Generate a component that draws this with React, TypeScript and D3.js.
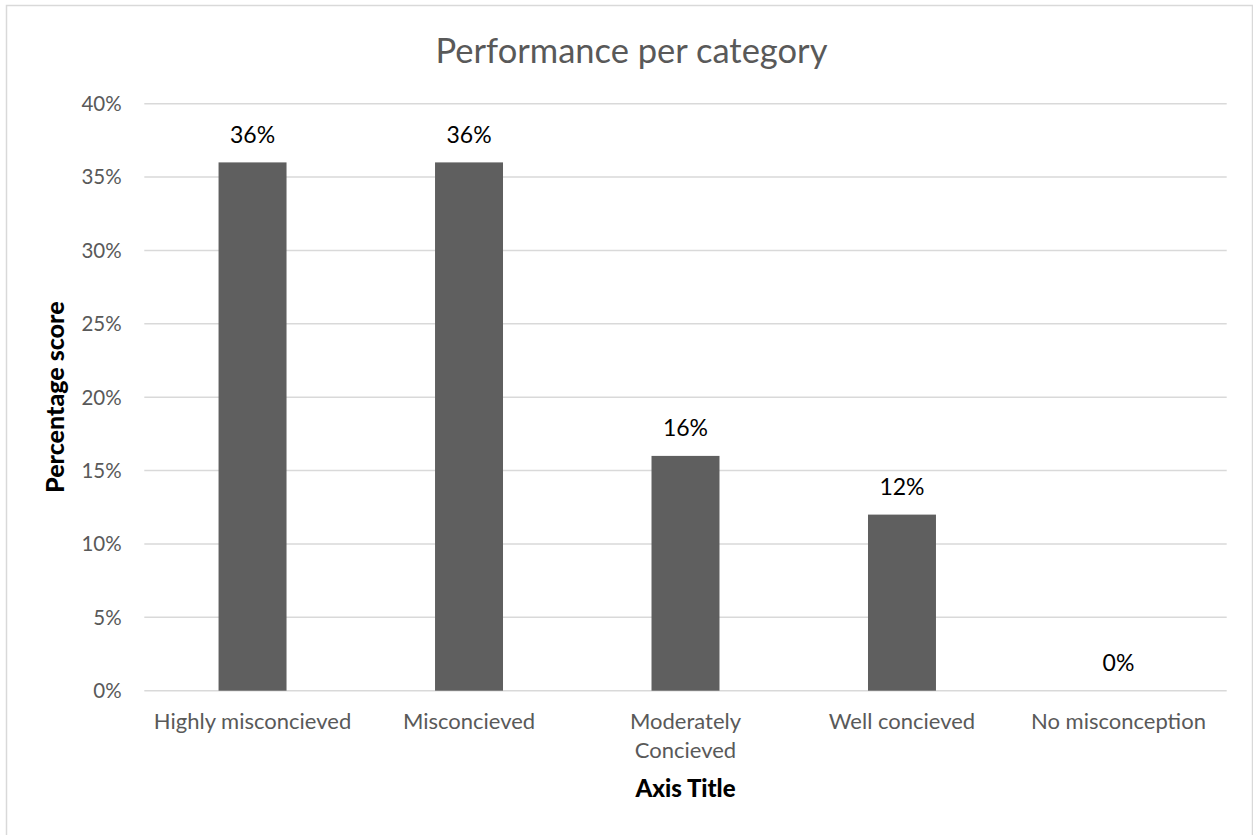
import React from "react";
import * as d3 from "d3";

const categories: string[][] = [
  ["Highly misconcieved"],
  ["Misconcieved"],
  ["Moderately", "Concieved"],
  ["Well concieved"],
  ["No misconception"],
];
const scores: number[] = [0.36, 0.36, 0.16, 0.12, 0];
const yTicks: number[] = [0, 0.05, 0.1, 0.15, 0.2, 0.25, 0.3, 0.35, 0.4];

const W = 1253;
const H = 835;
const FONT = "Lato, 'Open Sans', sans-serif";

export default function App() {
  const left = 144.3;
  const right = 1226.7;
  const top = 103.7;
  const bottom = 690.7;

  const x = d3
    .scaleBand<number>()
    .domain(scores.map((_, i) => i))
    .range([left, right])
    .paddingInner(0.686)
    .paddingOuter(0.343);

  const y = d3.scaleLinear().domain([0, 0.4]).range([bottom, top]);
  const pct = d3.format(".0%");

  return (
    <svg
      width={W}
      height={H}
      style={{ position: "absolute", left: 0, top: 0, background: "#fff" }}
      fontFamily={FONT}
    >
      <rect x={0} y={0} width={W} height={H} fill="#fff" />
      <rect
        x={6.5}
        y={5.5}
        width={1246}
        height={860}
        fill="none"
        stroke="#d9d9d9"
        strokeWidth={1.5}
      />
      <text
        x={631.5}
        y={62.7}
        textAnchor="middle"
        fontSize={34.5}
        fill="#595959"
      >
        Performance per category
      </text>

      {yTicks.map((t) => (
        <g key={t}>
          <line
            x1={left}
            x2={right}
            y1={y(t)}
            y2={y(t)}
            stroke="#d9d9d9"
            strokeWidth={1.5}
          />
          <text
            x={121.7}
            y={y(t)}
            dy="0.36em"
            textAnchor="end"
            fontSize={20.5}
            fill="#595959"
          >
            {pct(t)}
          </text>
        </g>
      ))}

      {scores.map((v, i) => {
        const bx = x(i)!;
        const bw = x.bandwidth();
        return (
          <g key={i}>
            <rect
              x={bx}
              y={y(v)}
              width={bw}
              height={y(0) - y(v)}
              fill="#5f5f5f"
            />
            <text
              x={bx + bw / 2}
              y={y(v) - 19.5}
              textAnchor="middle"
              fontSize={23}
              fill="#000"
            >
              {pct(v)}
            </text>
            {categories[i].map((line, j) => (
              <text
                key={j}
                x={bx + bw / 2}
                y={728.5 + j * 29}
                textAnchor="middle"
                fontSize={22}
                fill="#595959"
              >
                {line}
              </text>
            ))}
          </g>
        );
      })}

      <text
        transform={`translate(64,${(top + bottom) / 2}) rotate(-90)`}
        textAnchor="middle"
        fontSize={25}
        fontWeight={900}
        fill="#000"
      >
        Percentage score
      </text>
      <text
        x={(left + right) / 2}
        y={797}
        textAnchor="middle"
        fontSize={24}
        fontWeight={900}
        fill="#000"
      >
        Axis Title
      </text>
    </svg>
  );
}
